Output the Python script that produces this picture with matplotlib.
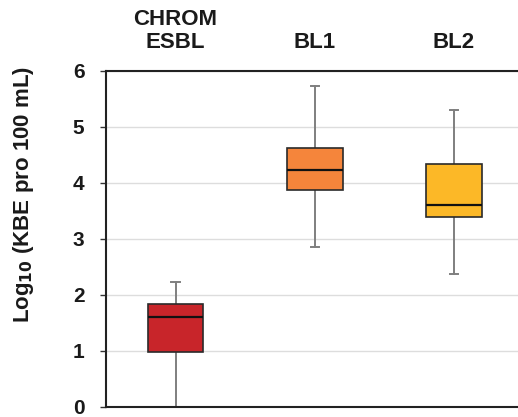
import matplotlib.pyplot as plt

# Box statistics (log10 KBE per 100 mL)
categories = ['CHROM\nESBL', 'BL1', 'BL2']
whisker_low = [0.0, 2.86, 2.38]
q1 = [0.98, 3.87, 3.39]
median = [1.61, 4.23, 3.61]
q3 = [1.84, 4.62, 4.34]
whisker_high = [2.23, 5.73, 5.30]
colors = ['#C8252A', '#F5853B', '#FCB827']

plt.rcParams['font.family'] = ['Liberation Sans', 'DejaVu Sans']
plt.rcParams['font.weight'] = 'bold'

fig = plt.figure(figsize=(5.18, 4.17), dpi=100)
ax = fig.add_axes([106 / 518, 10 / 417, 412 / 518, 336 / 417])

stats = []
for i, name in enumerate(categories):
    stats.append({'label': name, 'whislo': whisker_low[i], 'q1': q1[i],
                  'med': median[i], 'q3': q3[i], 'whishi': whisker_high[i]})

positions = list(range(len(categories)))
bp = ax.bxp(stats, positions=positions, widths=0.40, patch_artist=True,
            showfliers=False, capwidths=0.06,
            boxprops=dict(edgecolor='#2a2a2a', linewidth=1.2),
            medianprops=dict(color='#111111', linewidth=1.6),
            whiskerprops=dict(color='#7f7f7f', linewidth=1.4),
            capprops=dict(color='#7f7f7f', linewidth=1.4))
for patch, c in zip(bp['boxes'], colors):
    patch.set_facecolor(c)
    patch.set_zorder(3)
for line in bp['medians']:
    line.set_zorder(4)

ax.set_xlim(-0.5, 2.46)
ax.set_ylim(0, 6)
ax.set_yticks(range(0, 7))
ax.grid(axis='y', color='#dddddd', linewidth=1)
ax.set_axisbelow(True)

ax.xaxis.tick_top()
ax.set_xticks(positions)
ax.set_xticklabels(categories, fontsize=16, fontweight='bold', linespacing=1.1,
                   color='#1a1a1a')
ax.tick_params(axis='x', length=0, pad=13)
ax.tick_params(axis='y', labelsize=15, length=4.5, width=1, color='#333333',
               pad=11, labelcolor='#1a1a1a')

for side in ['top', 'bottom', 'left']:
    ax.spines[side].set_color('#222222')
    ax.spines[side].set_linewidth(1.5)
ax.spines['right'].set_visible(False)

fig.text(24 / 518, 1 - 195 / 417, 'Log$_{10}$ (KBE pro 100 mL)', rotation=90,
         ha='center', va='center', fontsize=16, fontweight='bold', color='#1a1a1a')

fig.savefig('out.png', dpi=100)
